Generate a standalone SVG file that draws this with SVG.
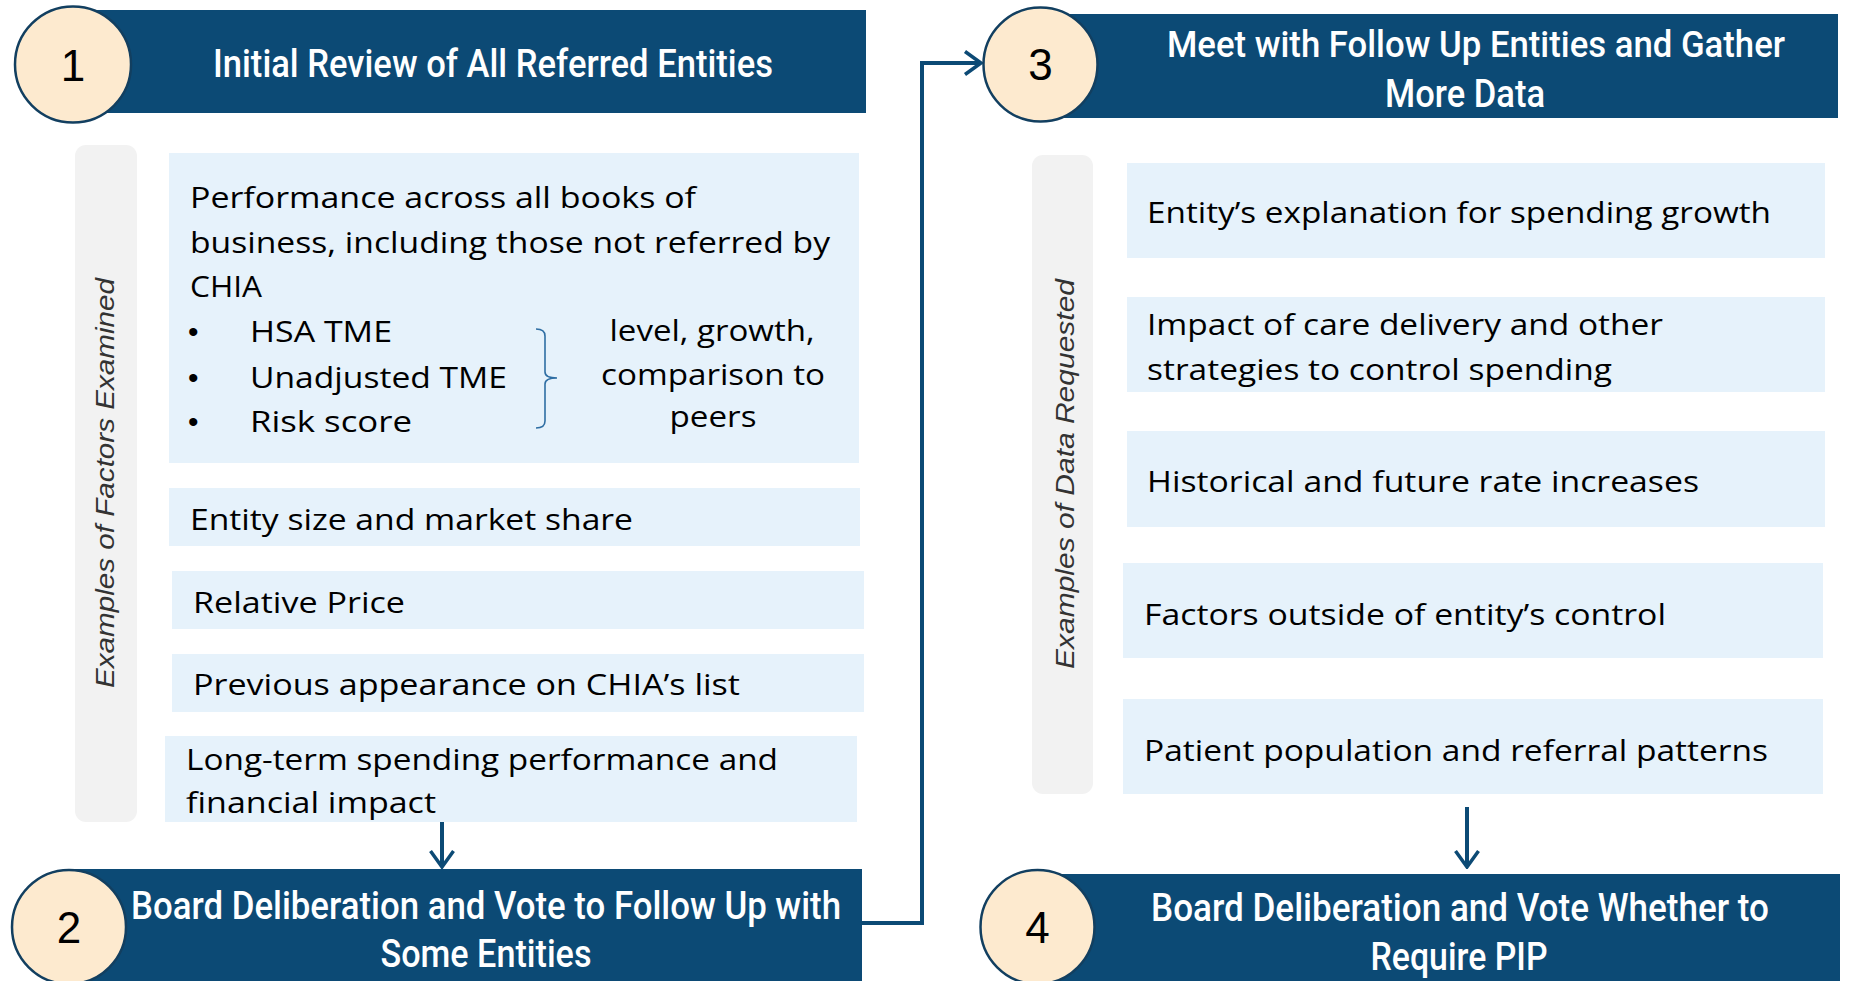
<svg xmlns="http://www.w3.org/2000/svg" width="1849" height="981" viewBox="0 0 1849 981">
<style>
.bar{fill:#0c4a75}
.circ{fill:#fdeacf;stroke:#123f60;stroke-width:2.5}
.num{font-family:"Liberation Sans",Arial,sans-serif;font-size:44px;fill:#000;text-anchor:middle}
.hd{font-family:Roboto,"Liberation Sans",sans-serif;font-weight:500;font-size:39px;fill:#fff;text-anchor:middle}
.box{fill:#e6f2fb}
.side{fill:#f2f2f2}
.lbl{font-family:"Liberation Sans",Arial,sans-serif;font-style:italic;font-size:26px;fill:#333;text-anchor:middle}
.tx{font-family:"Open Sans","Liberation Sans",sans-serif;font-size:30px;fill:#000}
.txm{font-family:"Open Sans","Liberation Sans",sans-serif;font-size:30px;fill:#000;text-anchor:middle}
.bul{font-family:"Liberation Sans",Arial,sans-serif;font-size:30px;fill:#000}
.con{fill:none;stroke:#0c4a75;stroke-width:4}
.brace{fill:none;stroke:#2f6ea3;stroke-width:1.6}
</style>
<defs>
<marker id="arrv" viewBox="0 0 20 26" refX="18" refY="13" markerWidth="20" markerHeight="26" markerUnits="userSpaceOnUse" orient="auto">
<path d="M2,1.5 L18,13 L2,24.5" fill="none" stroke="#0c4a75" stroke-width="3.5"/>
</marker>
</defs>

<g id="connectors">
<path class="con" d="M442,822 L442,867" marker-end="url(#arrv)"/>
<path class="con" d="M1467,807 L1467,867" marker-end="url(#arrv)"/>
<path class="con" d="M862,923 L922,923 L922,63 L981,63" marker-end="url(#arrv)"/>
</g>

<g id="step1">
<rect class="bar" x="90" y="10" width="776" height="103"/>
<circle class="circ" cx="73" cy="64.5" r="58"/>
<text class="num" x="73" y="81">1</text>
<text class="hd" x="493" y="77" textLength="560" lengthAdjust="spacingAndGlyphs">Initial Review of All Referred Entities</text>
</g>

<g id="factors-label">
<rect class="side" x="75" y="145" width="62" height="677" rx="11"/>
<text class="lbl" transform="translate(113.5,483) rotate(-90)" textLength="410" lengthAdjust="spacingAndGlyphs">Examples of Factors Examined</text>
</g>

<g id="factor-performance">
<rect class="box" x="169" y="153" width="690" height="310"/>
<text class="tx" x="190" y="208" textLength="506" lengthAdjust="spacingAndGlyphs">Performance across all books of</text>
<text class="tx" x="190" y="253" textLength="640" lengthAdjust="spacingAndGlyphs">business, including those not referred by</text>
<text class="tx" x="190" y="297" textLength="72" lengthAdjust="spacingAndGlyphs">CHIA</text>
<text class="bul" x="188" y="342">•</text>
<text class="bul" x="188" y="388">•</text>
<text class="bul" x="188" y="432">•</text>
<text class="tx" x="250" y="342" textLength="142" lengthAdjust="spacingAndGlyphs">HSA TME</text>
<text class="tx" x="250" y="388" textLength="257" lengthAdjust="spacingAndGlyphs">Unadjusted TME</text>
<text class="tx" x="250" y="432" textLength="162" lengthAdjust="spacingAndGlyphs">Risk score</text>
<path class="brace" d="M536,329 Q545,329 545,336 L545,372 Q545,378 557,378 Q545,378 545,384 L545,421 Q545,428 536,428"/>
<text class="txm" x="712" y="341" textLength="205" lengthAdjust="spacingAndGlyphs">level, growth,</text>
<text class="txm" x="713" y="385" textLength="224" lengthAdjust="spacingAndGlyphs">comparison to</text>
<text class="txm" x="713" y="427" textLength="87" lengthAdjust="spacingAndGlyphs">peers</text>
</g>

<g id="factor-size">
<rect class="box" x="169" y="488" width="691" height="58"/>
<text class="tx" x="190" y="530" textLength="443" lengthAdjust="spacingAndGlyphs">Entity size and market share</text>
</g>

<g id="factor-price">
<rect class="box" x="172" y="571" width="692" height="58"/>
<text class="tx" x="193" y="613" textLength="212" lengthAdjust="spacingAndGlyphs">Relative Price</text>
</g>

<g id="factor-previous">
<rect class="box" x="172" y="654" width="692" height="58"/>
<text class="tx" x="193" y="695" textLength="547" lengthAdjust="spacingAndGlyphs">Previous appearance on CHIA’s list</text>
</g>

<g id="factor-longterm">
<rect class="box" x="165" y="736" width="692" height="86"/>
<text class="tx" x="186" y="770" textLength="592" lengthAdjust="spacingAndGlyphs">Long-term spending performance and</text>
<text class="tx" x="186" y="813" textLength="250" lengthAdjust="spacingAndGlyphs">financial impact</text>
</g>

<g id="step2">
<rect class="bar" x="70" y="869" width="792" height="112"/>
<circle class="circ" cx="69" cy="927" r="57"/>
<text class="num" x="69" y="943">2</text>
<text class="hd" x="486" y="919" textLength="710" lengthAdjust="spacingAndGlyphs">Board Deliberation and Vote to Follow Up with</text>
<text class="hd" x="486" y="967" textLength="211" lengthAdjust="spacingAndGlyphs">Some Entities</text>
</g>

<g id="step3">
<rect class="bar" x="1060" y="14" width="778" height="104"/>
<circle class="circ" cx="1040.5" cy="64.5" r="57"/>
<text class="num" x="1040.5" y="80">3</text>
<text class="hd" x="1476" y="57" style="font-size:37px" textLength="618" lengthAdjust="spacingAndGlyphs">Meet with Follow Up Entities and Gather</text>
<text class="hd" x="1465" y="107" textLength="160" lengthAdjust="spacingAndGlyphs">More Data</text>
</g>

<g id="data-label">
<rect class="side" x="1032" y="155" width="61" height="639" rx="11"/>
<text class="lbl" transform="translate(1073.5,474) rotate(-90)" textLength="390" lengthAdjust="spacingAndGlyphs">Examples of Data Requested</text>
</g>

<g id="data-explanation">
<rect class="box" x="1127" y="163" width="698" height="95"/>
<text class="tx" x="1147" y="223" textLength="624" lengthAdjust="spacingAndGlyphs">Entity’s explanation for spending growth</text>
</g>

<g id="data-impact">
<rect class="box" x="1127" y="297" width="698" height="95"/>
<text class="tx" x="1147" y="335" textLength="516" lengthAdjust="spacingAndGlyphs">Impact of care delivery and other</text>
<text class="tx" x="1147" y="380" textLength="465" lengthAdjust="spacingAndGlyphs">strategies to control spending</text>
</g>

<g id="data-rates">
<rect class="box" x="1127" y="431" width="698" height="96"/>
<text class="tx" x="1147" y="492" textLength="552" lengthAdjust="spacingAndGlyphs">Historical and future rate increases</text>
</g>

<g id="data-factors">
<rect class="box" x="1123" y="563" width="700" height="95"/>
<text class="tx" x="1144" y="625" textLength="522" lengthAdjust="spacingAndGlyphs">Factors outside of entity’s control</text>
</g>

<g id="data-patients">
<rect class="box" x="1123" y="699" width="700" height="95"/>
<text class="tx" x="1144" y="761" textLength="624" lengthAdjust="spacingAndGlyphs">Patient population and referral patterns</text>
</g>

<g id="step4">
<rect class="bar" x="1060" y="874" width="780" height="107"/>
<circle class="circ" cx="1037.5" cy="927" r="57"/>
<text class="num" x="1037.5" y="943">4</text>
<text class="hd" x="1460" y="921" textLength="618" lengthAdjust="spacingAndGlyphs">Board Deliberation and Vote Whether to</text>
<text class="hd" x="1459" y="970" textLength="177" lengthAdjust="spacingAndGlyphs">Require PIP</text>
</g>
</svg>
